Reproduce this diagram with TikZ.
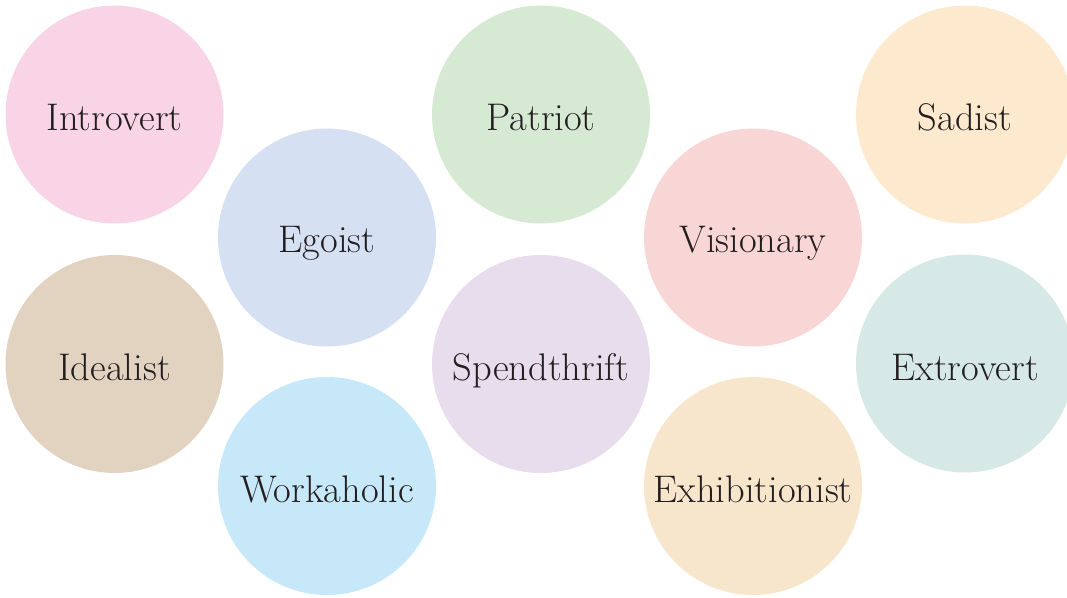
\documentclass[tikz,border=0pt]{standalone}
\definecolor{cIntro}{HTML}{F8D4E6}
\definecolor{cEgo}{HTML}{D6E0F3}
\definecolor{cIdeal}{HTML}{E2D3C0}
\definecolor{cWork}{HTML}{C6E8F8}
\definecolor{cPat}{HTML}{D6E9D3}
\definecolor{cSpend}{HTML}{E8DDED}
\definecolor{cVis}{HTML}{F9D6D6}
\definecolor{cExhib}{HTML}{F8E6CC}
\definecolor{cSad}{HTML}{FDEACE}
\definecolor{cExtro}{HTML}{D6E9E6}
\definecolor{ink}{HTML}{231F20}
\tikzset{
  bubble/.style={circle, draw=none, minimum size=218pt, inner sep=0pt},
  word/.style={anchor=base, inner sep=0pt, text=ink, font=\fontsize{38.5}{44}\selectfont}
}
\begin{document}
\begin{tikzpicture}[x=1pt,y=-1pt]
\useasboundingbox (0,0) rectangle (1067,597);
\clip (0,0) rectangle (1067,597);
\node[bubble, fill=cIntro] (introvert) at (114.5,114.5) {};
\node[bubble, fill=cIdeal] (idealist) at (114.5,364) {};
\node[bubble, fill=cEgo] (egoist) at (327,237.5) {};
\node[bubble, fill=cWork] (workaholic) at (327,486) {};
\node[bubble, fill=cPat] (patriot) at (541,114.5) {};
\node[bubble, fill=cSpend] (spendthrift) at (541,364) {};
\node[bubble, fill=cVis] (visionary) at (753,237.5) {};
\node[bubble, fill=cExhib] (exhibitionist) at (753,486) {};
\node[bubble, fill=cSad] (sadist) at (965,114.5) {};
\node[bubble, fill=cExtro] (extrovert) at (965,363.5) {};
\node[word] (t1) at ([yshift=-16pt]introvert.center) {Introvert};
\node[word] (t2) at ([yshift=-16pt]idealist.center) {Idealist};
\node[word] (t3) at ([yshift=-15pt]egoist.center) {Egoist};
\node[word] (t4) at ([yshift=-16pt]workaholic.center) {Workaholic};
\node[word] (t5) at ([yshift=-16pt]patriot.center) {Patriot};
\node[word] (t6) at ([yshift=-16pt]spendthrift.center) {Spendthrift};
\node[word] (t7) at ([yshift=-15pt]visionary.center) {Visionary};
\node[word] (t8) at ([yshift=-16pt]exhibitionist.center) {Exhibitionist};
\node[word] (t9) at ([yshift=-16pt]sadist.center) {Sadist};
\node[word] (t10) at ([yshift=-17pt]extrovert.center) {Extrovert};
\end{tikzpicture}
\end{document}
